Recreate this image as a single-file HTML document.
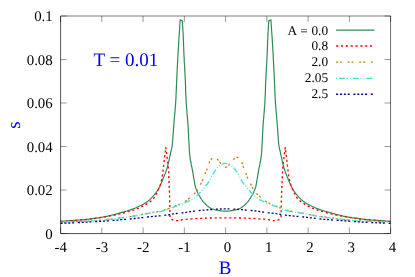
<!DOCTYPE html>
<html><head><meta charset="utf-8"><title>plot</title>
<style>
html,body{margin:0;padding:0;background:#fff;}
body{width:415px;height:277px;overflow:hidden;}
svg{display:block;}
text{font-family:"Liberation Serif",serif;text-rendering:geometricPrecision;}
svg{will-change:transform;transform:translateZ(0);}
</style></head><body>
<svg width="415" height="277" viewBox="0 0 415 277">
<path d="M60.6,221.4 62.0,221.3 63.5,221.2 64.9,221.1 66.4,221.0 67.8,220.9 69.3,220.7 70.7,220.6 72.2,220.5 73.6,220.4 75.0,220.3 76.5,220.2 78.0,220.1 79.5,220.0 81.0,219.8 82.4,219.7 83.9,219.6 85.3,219.5 86.7,219.3 88.0,219.2 89.6,219.0 91.1,218.8 92.6,218.6 94.1,218.4 95.6,218.2 97.0,218.0 98.4,217.8 99.7,217.6 101.1,217.4 102.4,217.2 103.7,216.9 105.0,216.7 106.5,216.4 107.9,216.1 109.3,215.7 110.8,215.4 112.2,215.0 113.7,214.6 115.1,214.3 116.6,213.9 118.0,213.5 119.5,213.1 120.9,212.7 122.4,212.3 123.8,211.9 125.3,211.4 126.7,211.0 128.2,210.5 129.7,210.1 131.2,209.6 132.6,209.1 133.9,208.6 135.4,208.0 136.7,207.4 138.1,206.8 139.3,206.2 140.4,205.7 141.6,205.1 142.8,204.4 144.1,203.7 145.4,202.9 146.7,202.1 147.9,201.2 149.0,200.3 150.0,199.4 151.0,198.4 152.0,197.4 152.9,196.4 153.8,195.4 154.7,194.3 155.6,193.2 156.3,192.2 157.1,191.1 157.8,190.0 158.5,188.8 159.2,187.6 159.9,186.3 160.5,185.0 161.1,183.6 161.7,182.1 162.3,180.7 162.9,179.2 163.4,177.9 164.0,176.5 164.5,175.1 165.1,173.7 165.6,172.4 166.1,171.1 166.5,169.8 166.9,168.5 167.3,167.2 167.6,166.0 167.9,164.8 168.2,163.5 168.5,162.2 168.9,160.8 169.2,159.4 169.5,158.1 169.8,156.7 170.1,155.3 170.4,153.8 170.7,152.4 171.0,151.0 171.3,149.8 171.6,148.7 171.8,147.6 172.1,146.3 172.2,145.3 172.4,144.0 172.5,142.6 172.6,141.0 172.8,139.4 172.9,137.6 173.0,135.8 173.2,134.0 173.3,132.3 173.4,130.6 173.5,129.0 173.6,127.6 173.7,126.3 173.8,124.7 173.9,123.3 174.1,122.0 174.2,120.6 174.3,119.0 174.4,117.7 174.5,116.4 174.7,114.9 174.8,113.4 174.9,111.9 175.1,110.3 175.2,108.6 175.3,107.0 175.5,105.3 175.6,103.7 175.7,102.0 175.8,100.5 175.9,99.0 176.0,97.5 176.0,96.0 176.1,94.4 176.2,92.8 176.2,91.2 176.3,89.7 176.4,88.1 176.4,86.5 176.5,84.8 176.6,83.2 176.6,81.6 176.7,80.0 176.8,78.5 176.8,77.0 176.9,75.5 177.0,74.0 177.1,72.5 177.1,71.0 177.2,69.4 177.3,67.9 177.4,66.4 177.5,64.8 177.5,63.3 177.6,61.8 177.7,60.2 177.8,58.7 177.9,57.1 177.9,55.6 178.0,54.0 178.1,52.4 178.2,50.7 178.3,49.1 178.4,47.4 178.5,45.7 178.6,44.0 178.7,42.4 178.8,40.7 178.9,39.1 179.0,37.5 179.1,36.0 179.2,34.5 179.3,33.0 179.4,31.7 179.5,30.4 179.6,28.6 179.7,27.0 179.8,25.5 179.9,24.1 180.0,22.7 180.1,21.3 180.2,19.8 182.3,20.9 182.4,22.4 182.5,23.9 182.6,25.4 182.7,26.9 182.8,28.6 182.9,30.4 183.0,31.6 183.1,33.0 183.1,34.4 183.2,35.9 183.3,37.4 183.3,39.0 183.4,40.6 183.5,42.3 183.5,44.0 183.6,45.7 183.7,47.4 183.7,49.0 183.8,50.7 183.9,52.4 183.9,54.0 184.0,55.6 184.1,57.1 184.2,58.7 184.2,60.2 184.3,61.8 184.4,63.3 184.5,64.8 184.6,66.4 184.7,67.9 184.7,69.4 184.8,71.0 184.9,72.5 185.0,74.0 185.1,75.5 185.2,77.0 185.2,78.5 185.3,80.0 185.4,81.6 185.4,83.2 185.5,84.8 185.6,86.4 185.6,88.0 185.7,89.6 185.7,91.2 185.8,92.8 185.8,94.4 185.9,95.9 186.0,97.5 186.0,99.0 186.1,100.5 186.2,102.0 186.3,103.6 186.4,105.2 186.5,106.8 186.7,108.5 186.8,110.1 186.9,111.7 187.0,113.2 187.2,114.8 187.3,116.2 187.4,117.6 187.5,118.8 187.6,120.0 187.7,121.7 187.9,123.1 188.0,124.6 188.1,126.3 188.2,127.5 188.2,128.9 188.3,130.4 188.4,132.0 188.5,133.6 188.6,135.3 188.6,137.0 188.7,138.7 188.8,140.4 188.9,142.0 189.0,143.6 189.1,145.0 189.2,146.6 189.2,148.2 189.3,149.7 189.4,151.2 189.5,152.6 189.7,154.0 189.8,155.5 190.0,157.0 190.2,158.4 190.4,159.8 190.7,161.3 191.0,162.7 191.2,164.2 191.5,165.6 191.8,167.0 192.1,168.3 192.3,169.6 192.6,171.1 192.8,172.5 193.1,173.9 193.3,175.2 193.5,176.6 193.8,178.0 194.0,179.4 194.3,180.8 194.5,182.2 194.7,183.7 195.0,185.1 195.3,186.5 195.7,187.8 196.2,189.3 196.8,190.7 197.4,192.1 198.1,193.5 198.8,194.8 199.5,196.0 200.2,197.2 200.9,198.4 201.6,199.5 202.4,200.6 203.3,201.8 204.3,202.9 205.4,204.0 206.4,205.0 207.4,205.9 208.5,206.8 209.5,207.5 210.6,208.2 211.9,208.8 213.2,209.2 214.5,209.6 215.7,209.9 216.9,210.2 218.1,210.4 219.4,210.6 220.9,210.8 222.4,211.0 224.0,211.1 225.6,211.1 227.1,211.1 228.7,211.0 230.2,210.8 231.7,210.6 233.0,210.4 234.2,210.2 235.4,209.9 236.6,209.6 237.9,209.2 239.2,208.8 240.5,208.2 241.6,207.5 242.6,206.8 243.7,205.9 244.7,205.0 245.7,204.0 246.8,202.9 247.8,201.8 248.7,200.6 249.5,199.5 250.2,198.4 250.9,197.2 251.6,196.0 252.3,194.8 253.0,193.5 253.7,192.1 254.3,190.7 254.9,189.3 255.4,187.8 255.8,186.5 256.1,185.1 256.4,183.7 256.6,182.2 256.8,180.8 257.1,179.4 257.3,178.0 257.6,176.6 257.8,175.2 258.0,173.9 258.3,172.5 258.5,171.1 258.8,169.6 259.0,168.3 259.3,167.0 259.6,165.6 259.9,164.2 260.1,162.7 260.4,161.3 260.7,159.8 260.9,158.4 261.1,157.0 261.3,155.5 261.4,154.0 261.6,152.6 261.7,151.2 261.8,149.7 261.9,148.2 261.9,146.6 262.1,145.0 262.1,143.6 262.2,142.0 262.3,140.4 262.4,138.7 262.5,137.0 262.5,135.3 262.6,133.6 262.7,132.0 262.8,130.4 262.9,128.9 262.9,127.5 263.0,126.3 263.1,124.6 263.2,123.1 263.4,121.7 263.5,120.0 263.6,118.8 263.7,117.6 263.8,116.2 263.9,114.8 264.1,113.2 264.2,111.7 264.3,110.1 264.4,108.5 264.6,106.8 264.7,105.2 264.8,103.6 264.9,102.0 265.0,100.5 265.1,99.0 265.1,97.5 265.2,95.9 265.3,94.4 265.3,92.8 265.4,91.2 265.4,89.6 265.5,88.0 265.5,86.4 265.6,84.8 265.7,83.2 265.7,81.6 265.8,80.0 265.9,78.5 265.9,77.0 266.0,75.5 266.1,74.0 266.2,72.5 266.3,71.0 266.4,69.4 266.4,67.9 266.5,66.4 266.6,64.8 266.7,63.3 266.8,61.8 266.9,60.2 266.9,58.7 267.0,57.1 267.1,55.6 267.2,54.0 267.2,52.4 267.3,50.7 267.4,49.0 267.4,47.4 267.5,45.7 267.6,44.0 267.6,42.3 267.7,40.6 267.8,39.0 267.8,37.4 267.9,35.9 268.0,34.4 268.0,33.0 268.1,31.6 268.2,30.4 268.3,28.6 268.4,26.9 268.5,25.4 268.6,23.9 268.7,22.4 268.8,20.9 270.9,19.8 271.0,21.3 271.1,22.7 271.2,24.1 271.3,25.5 271.4,27.0 271.5,28.6 271.6,30.4 271.7,31.7 271.8,33.0 271.9,34.5 272.0,36.0 272.1,37.5 272.2,39.1 272.3,40.7 272.4,42.4 272.5,44.0 272.6,45.7 272.7,47.4 272.8,49.1 272.9,50.7 273.0,52.4 273.1,54.0 273.2,55.6 273.2,57.1 273.3,58.7 273.4,60.2 273.5,61.8 273.6,63.3 273.6,64.8 273.7,66.4 273.8,67.9 273.9,69.4 274.0,71.0 274.0,72.5 274.1,74.0 274.2,75.5 274.3,77.0 274.3,78.5 274.4,80.0 274.5,81.6 274.5,83.2 274.6,84.8 274.7,86.5 274.7,88.1 274.8,89.7 274.9,91.2 274.9,92.8 275.0,94.4 275.1,96.0 275.1,97.5 275.2,99.0 275.3,100.5 275.4,102.0 275.5,103.7 275.6,105.3 275.8,107.0 275.9,108.6 276.0,110.3 276.2,111.9 276.3,113.4 276.4,114.9 276.6,116.4 276.7,117.7 276.8,119.0 276.9,120.6 277.0,122.0 277.2,123.3 277.3,124.7 277.4,126.3 277.5,127.6 277.6,129.0 277.7,130.6 277.8,132.3 277.9,134.0 278.1,135.8 278.2,137.6 278.3,139.4 278.5,141.0 278.6,142.6 278.7,144.0 278.9,145.3 279.0,146.3 279.3,147.6 279.5,148.7 279.8,149.8 280.1,151.0 280.4,152.4 280.7,153.8 281.0,155.3 281.3,156.7 281.6,158.1 281.9,159.4 282.2,160.8 282.6,162.2 282.9,163.5 283.2,164.8 283.5,166.0 283.8,167.2 284.2,168.5 284.6,169.8 285.0,171.1 285.5,172.4 286.0,173.7 286.6,175.1 287.1,176.5 287.7,177.9 288.2,179.2 288.8,180.7 289.4,182.1 290.0,183.6 290.6,185.0 291.2,186.3 291.9,187.6 292.6,188.8 293.3,190.0 294.0,191.1 294.8,192.2 295.5,193.2 296.4,194.3 297.3,195.4 298.2,196.4 299.1,197.4 300.1,198.4 301.1,199.4 302.1,200.3 303.2,201.2 304.4,202.1 305.7,202.9 307.0,203.7 308.3,204.4 309.5,205.1 310.7,205.7 311.8,206.2 313.0,206.8 314.4,207.4 315.7,208.0 317.2,208.6 318.5,209.1 319.9,209.6 321.4,210.1 322.9,210.5 324.4,211.0 325.8,211.4 327.3,211.9 328.7,212.3 330.2,212.7 331.6,213.1 333.1,213.5 334.5,213.9 336.0,214.3 337.4,214.6 338.9,215.0 340.3,215.4 341.8,215.7 343.2,216.1 344.6,216.4 346.1,216.7 347.4,216.9 348.7,217.2 350.0,217.4 351.4,217.6 352.7,217.8 354.1,218.0 355.5,218.2 357.0,218.4 358.5,218.6 360.0,218.8 361.5,219.0 363.1,219.2 364.4,219.3 365.8,219.5 367.2,219.6 368.7,219.7 370.1,219.8 371.6,220.0 373.1,220.1 374.6,220.2 376.1,220.3 377.5,220.4 378.9,220.5 380.4,220.6 381.8,220.7 383.3,220.9 384.7,221.0 386.2,221.1 387.6,221.2 389.1,221.3 390.5,221.4" fill="none" stroke="#2e8b57" stroke-width="1.2" stroke-linejoin="round"/>
<path d="M60.6,221.5 62.0,221.4 63.5,221.3 64.9,221.2 66.4,221.1 67.8,221.0 69.3,220.9 70.7,220.8 72.2,220.7 73.6,220.6 75.0,220.5 76.5,220.4 78.0,220.3 79.5,220.2 81.0,220.0 82.4,219.9 83.9,219.8 85.3,219.7 86.7,219.5 88.0,219.4 89.6,219.2 91.1,219.0 92.5,218.8 94.0,218.6 95.4,218.3 97.0,218.1 98.5,217.9 100.0,217.6 101.6,217.4 103.2,217.1 104.8,216.8 106.3,216.6 107.8,216.3 109.0,216.1 110.7,215.8 112.2,215.5 113.7,215.2 114.9,215.0 116.1,214.7 117.2,214.5 118.4,214.2 119.8,213.9 121.2,213.6 122.7,213.2 124.0,212.8 125.3,212.5 126.5,212.1 127.8,211.7 129.3,211.3 130.7,210.9 132.1,210.5 133.4,210.1 134.7,209.6 136.0,209.1 137.3,208.6 138.6,208.2 140.0,207.6 141.2,207.0 142.5,206.3 143.8,205.6 145.0,204.9 146.1,204.3 147.1,203.7 148.1,203.1 149.1,202.4 150.1,201.7 151.1,200.9 152.1,200.1 153.0,199.2 153.8,198.3 154.4,197.3 155.1,196.2 155.7,195.2 156.3,194.1 156.9,193.0 157.5,191.8 158.0,190.7 158.6,189.3 159.2,187.9 159.8,186.4 160.2,185.1 160.6,183.8 161.0,182.5 161.3,181.2 161.6,179.7 161.9,178.3 162.2,176.8 162.4,175.6 162.6,174.4 162.7,173.2 162.9,172.0 163.1,170.7 163.2,169.4 163.4,168.2 163.5,166.9 163.7,165.4 163.8,164.0 164.0,162.5 164.2,160.9 164.3,159.4 164.5,157.8 164.7,156.6 164.8,155.3 165.0,154.1 165.2,152.8 165.4,151.5 165.5,150.1 165.7,148.8 165.8,147.4 166.0,148.8 166.1,150.1 166.3,151.5 166.5,152.8 166.7,154.1 166.9,155.3 167.0,156.6 167.2,157.8 167.4,159.4 167.6,160.9 167.8,162.5 167.9,164.0 168.1,165.4 168.2,166.9 168.3,168.1 168.4,169.3 168.5,170.6 168.6,172.0 168.7,173.2 168.7,174.6 168.8,176.0 168.8,177.4 168.9,178.9 168.9,180.3 169.0,181.7 169.1,183.3 169.1,184.8 169.2,186.4 169.3,187.9 169.3,189.5 169.4,191.0 169.5,192.5 169.5,194.0 169.6,195.5 169.6,197.0 169.7,198.5 169.7,200.0 169.7,201.4 169.8,202.9 169.8,204.3 169.8,205.8 169.9,207.2 169.9,208.6 169.9,210.0 169.9,211.6 169.9,213.0 170.0,214.5 170.0,215.9 170.0,217.4 170.9,218.5 172.0,219.5 173.0,219.9 174.1,220.3 175.4,220.5 176.7,220.6 178.1,220.6 179.6,220.3 181.2,220.0 182.8,219.7 184.5,219.5 185.8,219.4 187.2,219.2 188.6,219.1 190.0,219.0 191.5,218.9 192.9,218.8 194.3,218.7 195.7,218.6 197.1,218.5 198.4,218.5 199.8,218.4 201.2,218.3 202.6,218.3 204.0,218.2 205.5,218.1 207.0,218.1 208.5,218.0 210.0,218.0 211.5,218.0 213.0,217.9 214.5,217.9 216.1,217.9 217.6,217.9 219.2,217.9 220.8,217.9 222.4,217.8 224.0,217.8 225.6,217.8 227.1,217.8 228.7,217.8 230.3,217.9 231.9,217.9 233.5,217.9 235.0,217.9 236.6,217.9 238.1,217.9 239.6,218.0 241.1,218.0 242.6,218.0 244.1,218.1 245.6,218.1 247.1,218.2 248.5,218.3 249.9,218.3 251.3,218.4 252.7,218.5 254.0,218.5 255.4,218.6 256.8,218.7 258.2,218.8 259.6,218.9 261.1,219.0 262.5,219.1 263.9,219.2 265.3,219.4 266.6,219.5 268.3,219.7 269.9,220.0 271.5,220.3 273.0,220.6 274.4,220.6 275.7,220.5 277.0,220.3 278.1,219.9 279.1,219.5 280.2,218.5 281.1,217.4 281.1,215.9 281.1,214.5 281.2,213.0 281.2,211.6 281.2,210.0 281.2,208.6 281.2,207.2 281.3,205.8 281.3,204.3 281.3,202.9 281.4,201.4 281.4,200.0 281.4,198.5 281.5,197.0 281.5,195.5 281.6,194.0 281.6,192.5 281.7,191.0 281.8,189.5 281.8,187.9 281.9,186.4 282.0,184.8 282.0,183.3 282.1,181.7 282.2,180.3 282.2,178.9 282.3,177.4 282.3,176.0 282.4,174.6 282.4,173.2 282.5,172.0 282.6,170.6 282.7,169.3 282.8,168.1 282.9,166.9 283.0,165.4 283.2,164.0 283.3,162.5 283.5,160.9 283.7,159.4 283.9,157.8 284.1,156.6 284.2,155.3 284.4,154.1 284.6,152.8 284.8,151.5 285.0,150.1 285.1,148.8 285.3,147.4 285.4,148.8 285.6,150.1 285.7,151.5 285.9,152.8 286.1,154.1 286.3,155.3 286.4,156.6 286.6,157.8 286.8,159.4 286.9,160.9 287.1,162.5 287.3,164.0 287.4,165.4 287.6,166.9 287.7,168.2 287.9,169.4 288.0,170.7 288.2,172.0 288.4,173.2 288.5,174.4 288.7,175.6 288.9,176.8 289.2,178.3 289.5,179.7 289.8,181.2 290.1,182.5 290.5,183.8 290.9,185.1 291.3,186.4 291.9,187.9 292.5,189.3 293.1,190.7 293.6,191.8 294.2,193.0 294.8,194.1 295.4,195.2 296.0,196.2 296.7,197.3 297.3,198.3 298.1,199.2 299.0,200.1 300.0,200.9 301.0,201.7 302.0,202.4 303.0,203.1 304.0,203.7 305.0,204.3 306.1,204.9 307.3,205.6 308.6,206.3 309.9,207.0 311.1,207.6 312.5,208.2 313.8,208.6 315.1,209.1 316.4,209.6 317.7,210.1 319.0,210.5 320.4,210.9 321.8,211.3 323.3,211.7 324.6,212.1 325.8,212.5 327.1,212.8 328.4,213.2 329.9,213.6 331.3,213.9 332.7,214.2 333.9,214.5 335.0,214.7 336.2,215.0 337.4,215.2 338.9,215.5 340.4,215.8 342.1,216.1 343.3,216.3 344.8,216.6 346.3,216.8 347.9,217.1 349.5,217.4 351.1,217.6 352.6,217.9 354.1,218.1 355.7,218.3 357.1,218.6 358.6,218.8 360.0,219.0 361.5,219.2 363.1,219.4 364.4,219.5 365.8,219.7 367.2,219.8 368.7,219.9 370.1,220.0 371.6,220.2 373.1,220.3 374.6,220.4 376.1,220.5 377.5,220.6 378.9,220.7 380.4,220.8 381.8,220.9 383.3,221.0 384.7,221.1 386.2,221.2 387.6,221.3 389.1,221.4 390.5,221.5" fill="none" stroke="#ff0000" stroke-width="1.35" stroke-linejoin="round" stroke-dasharray="2.1 2.75" stroke-dashoffset="0"/>
<path d="M60.6,222.2 62.1,222.1 63.6,222.1 65.1,222.0 66.6,222.0 68.1,221.9 69.6,221.8 71.1,221.8 72.6,221.7 74.1,221.7 75.6,221.6 77.1,221.5 78.5,221.5 80.0,221.4 81.5,221.3 83.0,221.3 84.6,221.2 86.1,221.1 87.6,221.0 89.1,221.0 90.6,220.9 92.1,220.8 93.6,220.7 95.0,220.6 96.5,220.5 98.0,220.4 99.6,220.3 101.1,220.1 102.7,220.0 104.3,219.8 105.8,219.7 107.4,219.5 108.9,219.3 110.5,219.1 112.0,219.0 113.5,218.8 115.0,218.6 116.6,218.4 118.1,218.2 119.7,218.0 121.2,217.8 122.8,217.6 124.3,217.4 125.8,217.2 127.2,217.0 128.6,216.8 130.0,216.6 131.5,216.4 133.0,216.1 134.4,215.9 135.8,215.7 137.2,215.4 138.6,215.2 140.0,214.9 141.4,214.6 142.9,214.3 144.3,214.0 145.7,213.7 147.1,213.5 148.6,213.2 150.0,212.9 151.4,212.7 152.9,212.4 154.4,212.2 155.8,212.0 157.3,211.8 158.7,211.6 160.0,211.3 161.5,210.9 162.9,210.5 164.2,210.1 165.6,209.6 167.0,209.1 168.3,208.7 169.5,208.2 170.8,207.7 172.1,207.3 173.5,206.7 174.8,206.2 176.2,205.6 177.6,205.0 179.1,204.4 180.6,203.7 182.0,203.1 183.4,202.4 184.5,201.8 185.6,201.1 186.6,200.4 187.4,199.7 188.4,198.9 189.4,198.1 190.5,197.2 191.5,196.3 192.6,195.4 193.5,194.5 194.7,193.4 195.7,192.4 196.7,191.2 197.4,190.1 198.2,188.7 198.8,187.3 199.5,186.0 200.1,184.8 200.8,183.6 201.4,182.5 202.1,181.2 202.7,179.9 203.3,178.4 203.9,176.8 204.5,175.3 205.0,174.0 205.5,172.8 206.0,171.8 206.5,170.6 207.0,169.3 207.4,167.9 207.9,166.3 208.4,164.8 208.9,163.5 209.6,162.0 210.3,160.6 211.1,159.4 211.9,158.5 212.8,157.7 213.8,157.3 215.3,157.7 216.7,158.6 217.7,159.6 218.6,160.9 219.6,162.1 220.6,163.2 221.6,164.3 222.5,165.2 223.5,166.2 224.5,166.9 225.6,167.3 226.6,166.9 227.6,166.2 228.6,165.2 229.5,164.3 230.5,163.2 231.5,162.1 232.5,160.9 233.4,159.6 234.4,158.6 235.8,157.7 237.3,157.3 238.3,157.7 239.2,158.5 240.0,159.4 240.8,160.6 241.5,162.0 242.2,163.5 242.7,164.8 243.2,166.3 243.7,167.9 244.1,169.3 244.6,170.6 245.1,171.8 245.6,172.8 246.1,174.0 246.6,175.3 247.2,176.8 247.8,178.4 248.4,179.9 249.0,181.2 249.7,182.5 250.3,183.6 251.0,184.8 251.6,186.0 252.3,187.3 252.9,188.7 253.7,190.1 254.4,191.2 255.4,192.4 256.4,193.4 257.6,194.5 258.5,195.4 259.6,196.3 260.6,197.2 261.7,198.1 262.7,198.9 263.7,199.7 264.5,200.4 265.5,201.1 266.6,201.8 267.7,202.4 269.1,203.1 270.5,203.7 272.0,204.4 273.5,205.0 274.9,205.6 276.3,206.2 277.6,206.7 279.0,207.3 280.3,207.7 281.6,208.2 282.8,208.7 284.1,209.1 285.5,209.6 286.9,210.1 288.2,210.5 289.6,210.9 291.1,211.3 292.4,211.6 293.8,211.8 295.3,212.0 296.7,212.2 298.2,212.4 299.7,212.7 301.1,212.9 302.5,213.2 304.0,213.5 305.4,213.7 306.8,214.0 308.2,214.3 309.7,214.6 311.1,214.9 312.5,215.2 313.9,215.4 315.3,215.7 316.7,215.9 318.1,216.1 319.6,216.4 321.1,216.6 322.5,216.8 323.9,217.0 325.3,217.2 326.8,217.4 328.3,217.6 329.9,217.8 331.4,218.0 333.0,218.2 334.5,218.4 336.1,218.6 337.6,218.8 339.1,219.0 340.6,219.1 342.2,219.3 343.7,219.5 345.3,219.7 346.8,219.8 348.4,220.0 350.0,220.1 351.5,220.3 353.1,220.4 354.6,220.5 356.1,220.6 357.5,220.7 359.0,220.8 360.5,220.9 362.0,221.0 363.5,221.0 365.0,221.1 366.5,221.2 368.1,221.3 369.6,221.3 371.1,221.4 372.6,221.5 374.0,221.5 375.5,221.6 377.0,221.7 378.5,221.7 380.0,221.8 381.5,221.8 383.0,221.9 384.5,222.0 386.0,222.0 387.5,222.1 389.0,222.1 390.5,222.2" fill="none" stroke="#b8860b" stroke-width="1.35" stroke-linejoin="round" stroke-dasharray="2 1.86 2 5.7" stroke-dashoffset="0"/>
<path d="M60.6,222.2 62.1,222.1 63.6,222.1 65.1,222.0 66.6,222.0 68.1,221.9 69.6,221.8 71.1,221.8 72.6,221.7 74.1,221.7 75.6,221.6 77.1,221.5 78.5,221.5 80.0,221.4 81.5,221.3 83.0,221.3 84.6,221.2 86.1,221.1 87.6,221.1 89.1,221.0 90.6,220.9 92.1,220.9 93.6,220.8 95.0,220.7 96.5,220.6 98.0,220.5 99.6,220.4 101.1,220.2 102.7,220.1 104.3,219.9 105.8,219.8 107.4,219.6 108.9,219.4 110.5,219.2 112.0,219.1 113.5,218.9 115.0,218.7 116.6,218.5 118.1,218.3 119.7,218.1 121.2,217.9 122.8,217.7 124.3,217.5 125.8,217.3 127.2,217.1 128.6,216.9 130.0,216.7 131.5,216.5 133.0,216.2 134.4,216.0 135.8,215.8 137.2,215.5 138.6,215.3 140.0,215.0 141.4,214.7 142.9,214.4 144.3,214.1 145.7,213.8 147.1,213.5 148.6,213.3 150.0,213.0 151.4,212.8 152.9,212.6 154.4,212.4 155.8,212.2 157.3,212.1 158.7,211.8 160.0,211.6 161.5,211.3 162.9,210.9 164.2,210.5 165.6,210.1 167.0,209.6 168.3,209.2 169.5,208.7 170.8,208.2 172.1,207.7 173.4,207.2 174.8,206.7 176.2,206.2 177.6,205.6 179.1,205.0 180.6,204.4 182.0,203.8 183.3,203.3 184.5,202.8 186.1,202.2 187.5,201.6 188.9,200.9 190.0,200.3 191.1,199.8 192.3,199.1 193.4,198.4 194.5,197.7 195.6,196.9 196.6,196.0 197.6,195.1 198.6,194.1 199.6,193.1 200.6,192.0 201.6,190.8 202.6,189.6 203.6,188.4 204.5,187.3 205.6,186.0 206.6,184.8 207.6,183.5 208.4,182.4 209.1,181.4 209.6,180.4 210.2,179.4 210.7,178.4 211.2,177.2 211.7,176.1 212.3,175.0 213.0,173.9 213.7,172.8 214.4,171.7 215.2,170.6 216.0,169.4 216.9,168.3 217.8,167.2 218.7,166.2 219.8,165.3 220.9,164.7 222.1,164.1 223.2,163.7 224.4,163.4 225.6,163.3 226.7,163.4 227.9,163.7 229.0,164.1 230.2,164.7 231.3,165.3 232.4,166.2 233.3,167.2 234.2,168.3 235.1,169.4 235.9,170.6 236.7,171.7 237.4,172.8 238.1,173.9 238.8,175.0 239.4,176.1 239.9,177.2 240.4,178.4 240.9,179.4 241.5,180.4 242.0,181.4 242.7,182.4 243.5,183.5 244.5,184.8 245.5,186.0 246.6,187.3 247.5,188.4 248.5,189.6 249.5,190.8 250.5,192.0 251.5,193.1 252.5,194.1 253.5,195.1 254.5,196.0 255.5,196.9 256.6,197.7 257.7,198.4 258.8,199.1 260.0,199.8 261.1,200.3 262.2,200.9 263.6,201.6 265.0,202.2 266.6,202.8 267.8,203.3 269.1,203.8 270.5,204.4 272.0,205.0 273.5,205.6 274.9,206.2 276.3,206.7 277.7,207.2 279.0,207.7 280.3,208.2 281.6,208.7 282.8,209.2 284.1,209.6 285.5,210.1 286.9,210.5 288.2,210.9 289.6,211.3 291.1,211.6 292.4,211.8 293.8,212.1 295.3,212.2 296.7,212.4 298.2,212.6 299.7,212.8 301.1,213.0 302.5,213.3 304.0,213.5 305.4,213.8 306.8,214.1 308.2,214.4 309.7,214.7 311.1,215.0 312.5,215.3 313.9,215.5 315.3,215.8 316.7,216.0 318.1,216.2 319.6,216.5 321.1,216.7 322.5,216.9 323.9,217.1 325.3,217.3 326.8,217.5 328.3,217.7 329.9,217.9 331.4,218.1 333.0,218.3 334.5,218.5 336.1,218.7 337.6,218.9 339.1,219.1 340.6,219.2 342.2,219.4 343.7,219.6 345.3,219.8 346.8,219.9 348.4,220.1 350.0,220.2 351.5,220.4 353.1,220.5 354.6,220.6 356.1,220.7 357.5,220.8 359.0,220.9 360.5,220.9 362.0,221.0 363.5,221.1 365.0,221.1 366.5,221.2 368.1,221.3 369.6,221.3 371.1,221.4 372.6,221.5 374.0,221.5 375.5,221.6 377.0,221.7 378.5,221.7 380.0,221.8 381.5,221.8 383.0,221.9 384.5,222.0 386.0,222.0 387.5,222.1 389.0,222.1 390.5,222.2" fill="none" stroke="#40e0d0" stroke-width="1.35" stroke-linejoin="round" stroke-dasharray="5.9 2 0.9 2 0.9 2" stroke-dashoffset="10.8"/>
<path d="M60.6,223.4 62.1,223.3 63.6,223.3 65.1,223.2 66.6,223.1 68.1,223.1 69.6,223.0 71.1,222.9 72.6,222.9 74.1,222.8 75.6,222.7 77.1,222.6 78.5,222.6 80.0,222.5 81.5,222.4 83.0,222.3 84.6,222.3 86.1,222.2 87.6,222.1 89.1,222.0 90.6,221.9 92.1,221.9 93.6,221.8 95.0,221.7 96.5,221.6 98.0,221.5 99.6,221.4 101.1,221.3 102.7,221.2 104.3,221.1 105.8,220.9 107.4,220.8 108.9,220.7 110.5,220.6 112.0,220.4 113.5,220.3 115.0,220.2 116.6,220.1 118.1,220.0 119.7,219.8 121.2,219.7 122.7,219.6 124.3,219.5 125.8,219.4 127.2,219.3 128.6,219.1 130.0,219.0 131.5,218.8 133.0,218.7 134.4,218.5 135.8,218.3 137.2,218.1 138.6,218.0 140.0,217.8 141.4,217.6 142.9,217.5 144.3,217.3 145.7,217.2 147.1,217.0 148.6,216.8 150.0,216.7 151.4,216.6 152.9,216.4 154.4,216.3 155.8,216.2 157.3,216.1 158.7,215.9 160.0,215.8 161.5,215.6 162.9,215.5 164.2,215.4 165.6,215.2 167.0,215.0 168.5,214.8 170.0,214.5 171.6,214.2 173.2,213.9 174.8,213.7 176.1,213.5 177.5,213.4 178.9,213.2 180.3,213.1 181.7,212.9 183.1,212.8 184.5,212.6 185.9,212.4 187.3,212.2 188.7,212.0 190.1,211.7 191.5,211.5 192.9,211.3 194.3,211.1 195.7,210.9 197.1,210.8 198.4,210.6 199.8,210.5 201.2,210.4 202.6,210.2 204.0,210.1 205.5,210.0 207.0,209.8 208.5,209.7 210.0,209.6 211.5,209.5 213.0,209.4 214.5,209.3 216.1,209.2 217.6,209.1 219.2,209.1 220.8,209.0 222.4,208.9 224.0,208.9 225.6,208.9 227.1,208.9 228.7,208.9 230.3,209.0 231.9,209.1 233.5,209.1 235.0,209.2 236.6,209.3 238.1,209.4 239.6,209.5 241.1,209.6 242.6,209.7 244.1,209.8 245.6,210.0 247.1,210.1 248.5,210.2 249.9,210.4 251.3,210.5 252.7,210.6 254.0,210.8 255.4,210.9 256.8,211.1 258.2,211.3 259.6,211.5 261.0,211.7 262.4,212.0 263.8,212.2 265.2,212.4 266.6,212.6 268.0,212.8 269.4,212.9 270.8,213.1 272.2,213.2 273.6,213.4 275.0,213.5 276.3,213.7 277.9,213.9 279.5,214.2 281.1,214.5 282.6,214.8 284.1,215.0 285.5,215.2 286.9,215.4 288.2,215.5 289.6,215.6 291.1,215.8 292.4,215.9 293.8,216.1 295.3,216.2 296.7,216.3 298.2,216.4 299.7,216.6 301.1,216.7 302.5,216.8 304.0,217.0 305.4,217.2 306.8,217.3 308.2,217.5 309.7,217.6 311.1,217.8 312.5,218.0 313.9,218.1 315.3,218.3 316.7,218.5 318.1,218.7 319.6,218.8 321.1,219.0 322.5,219.1 323.9,219.3 325.3,219.4 326.8,219.5 328.4,219.6 329.9,219.7 331.4,219.8 333.0,220.0 334.5,220.1 336.1,220.2 337.6,220.3 339.1,220.4 340.6,220.6 342.2,220.7 343.7,220.8 345.3,220.9 346.8,221.1 348.4,221.2 350.0,221.3 351.5,221.4 353.1,221.5 354.6,221.6 356.1,221.7 357.5,221.8 359.0,221.9 360.5,221.9 362.0,222.0 363.5,222.1 365.0,222.2 366.5,222.3 368.1,222.3 369.6,222.4 371.1,222.5 372.6,222.6 374.0,222.6 375.5,222.7 377.0,222.8 378.5,222.9 380.0,222.9 381.5,223.0 383.0,223.1 384.5,223.1 386.0,223.2 387.5,223.3 389.0,223.3 390.5,223.4" fill="none" stroke="#00008b" stroke-width="1.35" stroke-linejoin="round" stroke-dasharray="2 1.86 2 1.86 2 1.86 2 3.77" stroke-dashoffset="0"/>
<g stroke="#000" stroke-width="0.57" fill="none" stroke-linecap="butt">
<line x1="60.60" y1="16.00" x2="60.60" y2="233.50" stroke-width="0.66"/>
<line x1="390.55" y1="16.00" x2="390.55" y2="233.50"/>
<line x1="60.60" y1="233.60" x2="390.55" y2="233.60" stroke-width="0.7"/>
<line x1="60.60" y1="16.00" x2="390.55" y2="16.00" stroke-width="0.52"/>
</g>
<g stroke="#000" stroke-width="0.4" fill="none">
<line x1="60.56" y1="233.50" x2="60.56" y2="227.50"/>
<line x1="60.56" y1="16.00" x2="60.56" y2="22.00"/>
<line x1="101.82" y1="233.50" x2="101.82" y2="227.50"/>
<line x1="101.82" y1="16.00" x2="101.82" y2="22.00"/>
<line x1="143.08" y1="233.50" x2="143.08" y2="227.50"/>
<line x1="143.08" y1="16.00" x2="143.08" y2="22.00"/>
<line x1="184.34" y1="233.50" x2="184.34" y2="227.50"/>
<line x1="184.34" y1="16.00" x2="184.34" y2="22.00"/>
<line x1="225.60" y1="233.50" x2="225.60" y2="227.50"/>
<line x1="225.60" y1="16.00" x2="225.60" y2="22.00"/>
<line x1="266.86" y1="233.50" x2="266.86" y2="227.50"/>
<line x1="266.86" y1="16.00" x2="266.86" y2="22.00"/>
<line x1="308.12" y1="233.50" x2="308.12" y2="227.50"/>
<line x1="308.12" y1="16.00" x2="308.12" y2="22.00"/>
<line x1="349.38" y1="233.50" x2="349.38" y2="227.50"/>
<line x1="349.38" y1="16.00" x2="349.38" y2="22.00"/>
<line x1="390.64" y1="233.50" x2="390.64" y2="227.50"/>
<line x1="390.64" y1="16.00" x2="390.64" y2="22.00"/>
<line x1="60.60" y1="233.50" x2="66.60" y2="233.50"/>
<line x1="390.55" y1="233.50" x2="384.55" y2="233.50"/>
<line x1="60.60" y1="190.00" x2="66.60" y2="190.00"/>
<line x1="390.55" y1="190.00" x2="384.55" y2="190.00"/>
<line x1="60.60" y1="146.50" x2="66.60" y2="146.50"/>
<line x1="390.55" y1="146.50" x2="384.55" y2="146.50"/>
<line x1="60.60" y1="103.00" x2="66.60" y2="103.00"/>
<line x1="390.55" y1="103.00" x2="384.55" y2="103.00"/>
<line x1="60.60" y1="59.50" x2="66.60" y2="59.50"/>
<line x1="390.55" y1="59.50" x2="384.55" y2="59.50"/>
<line x1="60.60" y1="16.00" x2="66.60" y2="16.00"/>
<line x1="390.55" y1="16.00" x2="384.55" y2="16.00"/>
</g>
<g class="t" font-size="14.85" fill="#000">
<text x="52.7" y="239.40" text-anchor="end">0</text>
<text x="52.7" y="194.90" text-anchor="end">0.02</text>
<text x="52.7" y="152.30" text-anchor="end">0.04</text>
<text x="52.7" y="108.30" text-anchor="end">0.06</text>
<text x="52.7" y="64.80" text-anchor="end">0.08</text>
<text x="52.7" y="20.90" text-anchor="end">0.1</text>
<text x="60.76" y="252.1" text-anchor="middle">-4</text>
<text x="102.02" y="252.1" text-anchor="middle">-3</text>
<text x="143.28" y="252.1" text-anchor="middle">-2</text>
<text x="184.54" y="252.1" text-anchor="middle">-1</text>
<text x="227.40" y="252.1" text-anchor="middle">0</text>
<text x="268.66" y="252.1" text-anchor="middle">1</text>
<text x="309.92" y="252.1" text-anchor="middle">2</text>
<text x="351.18" y="252.1" text-anchor="middle">3</text>
<text x="392.44" y="252.1" text-anchor="middle">4</text>
<text x="328.1" y="34.50" text-anchor="end" font-size="13.3" word-spacing="0.5">A = 0.0</text>
<text x="328.1" y="50.40" text-anchor="end" font-size="13.3" word-spacing="0.5">0.8</text>
<text x="328.1" y="66.40" text-anchor="end" font-size="13.3" word-spacing="0.5">2.0</text>
<text x="328.1" y="82.20" text-anchor="end" font-size="13.3" word-spacing="0.5">2.05</text>
<text x="328.1" y="98.20" text-anchor="end" font-size="13.3" word-spacing="0.5">2.5</text>
</g>
<line x1="336.1" y1="30.10" x2="374.6" y2="30.10" stroke="#2e8b57" stroke-width="1.1"/>
<line x1="336.1" y1="46.00" x2="374.6" y2="46.00" stroke="#ff0000" stroke-width="1.35" stroke-dasharray="2.1 2.75" stroke-dashoffset="0"/>
<line x1="336.1" y1="62.10" x2="374.6" y2="62.10" stroke="#b8860b" stroke-width="1.35" stroke-dasharray="2 1.86 2 5.7" stroke-dashoffset="0"/>
<line x1="336.1" y1="78.30" x2="374.6" y2="78.30" stroke="#40e0d0" stroke-width="1.35" stroke-dasharray="5.9 2 0.9 2 0.9 2" stroke-dashoffset="10.8"/>
<line x1="336.1" y1="94.20" x2="374.6" y2="94.20" stroke="#00008b" stroke-width="1.35" stroke-dasharray="2 1.86 2 1.86 2 1.86 2 3.77" stroke-dashoffset="0"/>
<g class="t" font-size="19" fill="#0000ff">
<text x="93.6" y="66">T = 0.01</text>
<text x="225.2" y="273.8" text-anchor="middle">B</text>
<text transform="translate(20.4,125.1) rotate(-90)" text-anchor="middle">s</text>
</g>
</svg>
</body></html>
